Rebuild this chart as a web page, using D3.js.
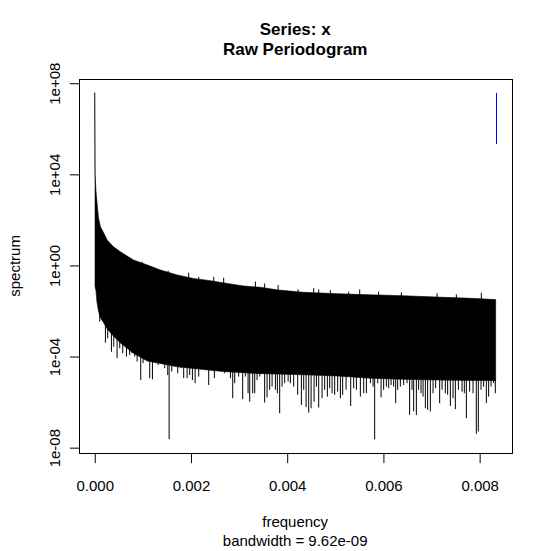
<!DOCTYPE html>
<html lang="en">
<head>
<meta charset="UTF-8">
<title>Raw Periodogram</title>
<script src="https://d3js.org/d3.v7.min.js"></script>
<style>
  body { margin: 0; background: #fff; }
  svg { display: block; }
  text { font-family: Arial, "Liberation Sans", sans-serif; fill: #000; }
</style>
</head>
<body>
<svg width="552" height="551"></svg>
<script>
// values; spectrum values are kept as log10
const xTicks = [0, 0.002, 0.004, 0.006, 0.008];
const xTickLabels = ["0.000", "0.002", "0.004", "0.006", "0.008"];
const yTicks = [1e-8, 1e-4, 1, 1e4, 1e8];
const yTickLabels = ["1e-08", "1e-04", "1e+00", "1e+04", "1e+08"];

// first frequency, holds the big low frequency peak
const peakFreq = 3.3e-8;
const peakLog = 7.59;

// outline of the dense black band
const bandFreq = [0.0000062, 0.0000249, 0.0000457, 0.0000769, 0.000118, 0.000181,
  0.000264, 0.000389, 0.000534, 0.000804, 0.001095, 0.001365, 0.001718, 0.002051,
  0.002404, 0.002757, 0.003090, 0.003443, 0.003817, 0.004336, 0.005043, 0.005729,
  0.006414, 0.007121, 0.007807, 0.008333];
const bandUpperLog = [4.04, 3.3, 2.8, 2.1, 1.7, 1.45, 1.1, 0.82, 0.6, 0.24, 0.02,
  -0.20, -0.42, -0.57, -0.67, -0.79, -0.90, -0.96, -1.08, -1.18, -1.24, -1.29,
  -1.33, -1.39, -1.44, -1.50];
const bandLowerLog = [-0.93, -1.1, -1.6, -2.0, -2.3, -2.5, -2.8, -3.1, -3.4, -3.85,
  -4.2, -4.3, -4.45, -4.52, -4.6, -4.67, -4.71, -4.75, -4.77, -4.8, -4.85, -4.95,
  -5.0, -5.03, -5.05, -5.05];

// small peaks poking above the band
const ridgeFreq = [0.000985, 0.001525, 0.001953, 0.002161, 0.002473, 0.00268,
  0.003339, 0.003532, 0.003811, 0.004226, 0.004551, 0.004655, 0.004898, 0.005278,
  0.005507, 0.005901, 0.006373, 0.007115, 0.007516, 0.008035];
const ridgeLog = [0.16, -0.23, -0.32, -0.50, -0.50, -0.54, -0.71, -0.79, -0.86,
  -1.05, -1.00, -1.05, -1.08, -1.15, -1.05, -1.15, -1.18, -1.22, -1.27, -1.20];

// dips hanging below the band
const dipFreq = [0.000104, 0.000222, 0.00027, 0.000347, 0.000395, 0.000465, 0.00052,
  0.000582, 0.000659, 0.000727, 0.000769, 0.000831, 0.000881, 0.000956, 0.001005,
  0.001088, 0.001143, 0.001199, 0.001261, 0.001317, 0.0014, 0.001455, 0.001517,
  0.001546, 0.0016, 0.001656, 0.001725, 0.001795, 0.001849, 0.00192, 0.001974,
  0.00203, 0.002086, 0.002161, 0.002232, 0.0023, 0.002369, 0.00244, 0.002487,
  0.002543, 0.002612, 0.002695, 0.002751, 0.00282, 0.002868, 0.002909, 0.002992,
  0.003075, 0.003131, 0.003187, 0.003221, 0.003283, 0.003325, 0.003374, 0.003429,
  0.003532, 0.003582, 0.003636, 0.003686, 0.003755, 0.003796, 0.003844, 0.003894,
  0.003948, 0.004019, 0.004066, 0.004135, 0.004218, 0.004295, 0.004343, 0.004393,
  0.004447, 0.004497, 0.004559, 0.004607, 0.004655, 0.004725, 0.004779, 0.004835,
  0.004883, 0.004933, 0.004987, 0.005049, 0.005106, 0.005153, 0.005224, 0.00532,
  0.005382, 0.005438, 0.005521, 0.00559, 0.005646, 0.005729, 0.005785, 0.005818,
  0.005881, 0.005951, 0.006005, 0.006061, 0.006109, 0.006159, 0.006213, 0.006255,
  0.006296, 0.006352, 0.006421, 0.006491, 0.006545, 0.006595, 0.006629, 0.006685,
  0.006732, 0.006782, 0.006824, 0.006872, 0.006919, 0.006976, 0.007032, 0.007086,
  0.007169, 0.007219, 0.007287, 0.007335, 0.007391, 0.007447, 0.007495, 0.007558,
  0.007634, 0.007682, 0.007724, 0.007792, 0.007863, 0.007931, 0.007973, 0.008029,
  0.008083, 0.008139, 0.008187, 0.008237, 0.008291, 0.008326];
const dipLog = [-2.47, -3.39, -3.20, -3.79, -3.57, -4.07, -3.64, -3.86, -4.0, -3.93,
  -3.83, -4.0, -4.22, -5.03, -4.29, -4.15, -4.95, -5.0, -4.29, -4.37, -4.0, -4.51,
  -4.81, -7.63, -4.66, -4.44, -4.73, -4.51, -4.95, -4.95, -4.81, -5.03, -5.17,
  -4.88, -4.51, -4.44, -5.25, -4.37, -4.95, -4.44, -4.66, -4.73, -4.66, -4.95,
  -5.83, -5.17, -4.88, -5.87, -4.88, -5.61, -5.98, -5.61, -5.61, -5.03, -4.88,
  -6.02, -5.79, -5.46, -5.32, -5.46, -5.61, -6.49, -5.32, -5.17, -5.10, -5.17,
  -5.32, -5.68, -6.12, -5.46, -6.22, -6.46, -6.27, -5.98, -5.32, -6.24, -5.83,
  -5.46, -5.76, -5.39, -5.61, -5.68, -5.54, -5.83, -5.68, -5.46, -6.17, -5.39,
  -5.46, -5.76, -5.61, -5.61, -5.17, -5.32, -7.63, -5.17, -5.79, -5.46, -5.32,
  -5.39, -5.25, -5.32, -6.05, -5.46, -5.32, -5.25, -5.17, -6.56, -5.46, -6.41,
  -6.56, -5.46, -5.61, -5.76, -6.27, -6.34, -6.41, -5.61, -5.39, -6.05, -5.46,
  -5.61, -5.68, -6.17, -5.83, -6.31, -5.46, -5.54, -5.61, -6.71, -5.54, -5.61,
  -7.39, -7.29, -5.46, -5.32, -6.05, -5.76, -5.32, -5.17, -5.61];

// confidence bar, top right
const ciFreq = 0.008333;
const ciLog = [5.31, 7.59];

const width = 552;
const height = 551;
const margin = { top: 78.7, right: 40.3, bottom: 97.9, left: 78.7 };

const svg = d3.select("svg");

// R style limits: data range widened by 4% on each side
const xExtent = [peakFreq, d3.max(bandFreq)];
const xPad = (xExtent[1] - xExtent[0]) * 0.04;
const x = d3.scaleLinear()
  .domain([xExtent[0] - xPad, xExtent[1] + xPad])
  .range([margin.left, width - margin.right]);

const logExtent = [d3.min(dipLog), d3.max([peakLog, ...bandUpperLog])];
const logPad = (logExtent[1] - logExtent[0]) * 0.04;
const y = d3.scaleLog()
  .domain([10 ** (logExtent[0] - logPad), 10 ** (logExtent[1] + logPad)])
  .range([height - margin.bottom, margin.top]);

const plot = svg.append("g");

// band
const band = bandFreq.map((f, i) => ({ f, hi: 10 ** bandUpperLog[i], lo: 10 ** bandLowerLog[i] }));
plot.append("path")
  .datum(band)
  .attr("fill", "#000")
  .attr("stroke", "#000")
  .attr("stroke-width", 0.6)
  .attr("d", d3.area().x(d => x(d.f)).y0(d => y(d.lo)).y1(d => y(d.hi)));

// peak at the first frequency
plot.append("path")
  .attr("stroke", "#000")
  .attr("fill", "none")
  .attr("d", d3.line()([[x(peakFreq), y(10 ** peakLog)], [x(bandFreq[0]), y(10 ** bandUpperLog[0])]]));

// spikes above and below the band, each one starts at the band's edge
const upperAt = d3.scaleLinear().domain(bandFreq).range(bandUpperLog);
const lowerAt = d3.scaleLinear().domain(bandFreq).range(bandLowerLog);

plot.selectAll("line.ridge")
  .data(ridgeFreq.map((f, i) => ({ f, v: 10 ** ridgeLog[i] })))
  .join("line")
  .attr("class", "ridge")
  .attr("x1", d => x(d.f))
  .attr("x2", d => x(d.f))
  .attr("y1", d => y(10 ** upperAt(d.f)) + 2)
  .attr("y2", d => y(d.v))
  .attr("stroke", "#000")
  .attr("stroke-width", 1);

plot.selectAll("line.dip")
  .data(dipFreq.map((f, i) => ({ f, v: 10 ** dipLog[i] })))
  .join("line")
  .attr("class", "dip")
  .attr("x1", d => x(d.f))
  .attr("x2", d => x(d.f))
  .attr("y1", d => y(10 ** lowerAt(d.f)) - 2)
  .attr("y2", d => y(d.v))
  .attr("stroke", "#000")
  .attr("stroke-width", 1);

// confidence bar, snapped to a pixel so it stays pure blue
const ciX = Math.round(x(ciFreq)) + 0.5;
plot.append("line")
  .attr("x1", ciX).attr("x2", ciX)
  .attr("y1", y(10 ** ciLog[0])).attr("y2", y(10 ** ciLog[1]))
  .attr("stroke", "#0000ff")
  .attr("stroke-width", 1)
  .attr("shape-rendering", "crispEdges");

// box
svg.append("rect")
  .attr("x", Math.round(margin.left) + 0.5)
  .attr("y", Math.round(margin.top) + 0.5)
  .attr("width", Math.round(width - margin.right) - Math.round(margin.left))
  .attr("height", Math.round(height - margin.bottom) - Math.round(margin.top))
  .attr("fill", "none")
  .attr("stroke", "#000");

// axes
const xAxis = svg.append("g")
  .attr("transform", `translate(0,${Math.round(height - margin.bottom) + 0.5})`)
  .call(d3.axisBottom(x).tickValues(xTicks)
    .tickFormat((d, i) => xTickLabels[i]).tickSize(9.6).tickSizeOuter(0));
xAxis.select(".domain").remove();
xAxis.selectAll("text")
  .attr("y", 37).attr("dy", 0)
  .style("font-size", "15px");

const yAxis = svg.append("g")
  .attr("transform", `translate(${Math.round(margin.left) + 0.5},0)`)
  .call(d3.axisLeft(y).tickValues(yTicks)
    .tickFormat((d, i) => yTickLabels[i]).tickSize(9.6).tickSizeOuter(0));
yAxis.select(".domain").remove();
yAxis.selectAll("text")
  .attr("x", null).attr("y", null).attr("dy", 0)
  .attr("text-anchor", "middle")
  .attr("transform", "translate(-19.5,0) rotate(-90)")
  .style("font-size", "15px");
svg.selectAll(".tick line").attr("stroke", "#000");

// labels
const cx = (margin.left + width - margin.right) / 2;
svg.append("text")
  .attr("x", cx).attr("y", 35)
  .attr("text-anchor", "middle")
  .style("font-size", "17px").style("font-weight", "bold")
  .text("Series: x");
svg.append("text")
  .attr("x", cx).attr("y", 55)
  .attr("text-anchor", "middle")
  .style("font-size", "17px").style("font-weight", "bold")
  .text("Raw Periodogram");
svg.append("text")
  .attr("x", cx).attr("y", 526.5)
  .attr("text-anchor", "middle")
  .style("font-size", "15px")
  .text("frequency");
svg.append("text")
  .attr("x", cx).attr("y", 546)
  .attr("text-anchor", "middle")
  .style("font-size", "15px")
  .text("bandwidth = 9.62e-09");
svg.append("text")
  .attr("transform", `translate(20.4,${(margin.top + height - margin.bottom) / 2}) rotate(-90)`)
  .attr("text-anchor", "middle")
  .style("font-size", "15px")
  .text("spectrum");
</script>
</body>
</html>
